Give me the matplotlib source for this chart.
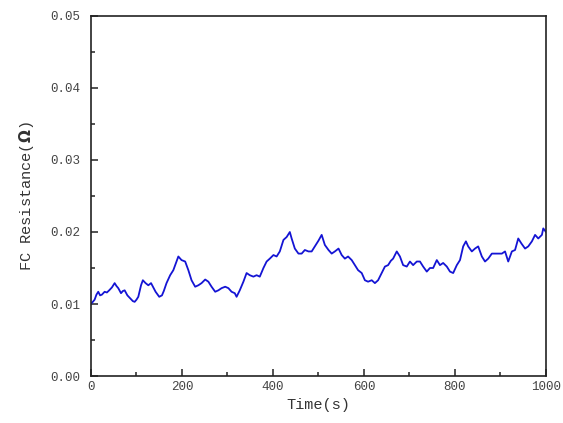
import matplotlib
matplotlib.use('Agg')
import matplotlib.pyplot as plt
from matplotlib.ticker import MultipleLocator, FormatStrFormatter

matplotlib.rcParams['font.family'] = ['Liberation Mono', 'DejaVu Sans Mono']
matplotlib.rcParams['font.size'] = 9

# time (s) and FC resistance (ohm)
time_s = [0, 4, 8, 12, 16, 20, 24, 30, 35, 40, 46, 52, 56, 60, 66, 70, 74, 80,
          86, 92, 96, 100, 104, 110, 114, 120, 126, 132, 137, 142, 150, 156,
          160, 166, 174, 181, 188, 192, 199, 207, 214, 221, 229, 236, 243,
          251, 258, 265, 273, 280, 287, 295, 302, 309, 316, 320, 327, 335,
          342, 349, 357, 364, 371, 379, 386, 393, 401, 408, 415, 423, 430,
          437, 441, 448, 456, 463, 470, 478, 485, 492, 500, 507, 514, 522,
          529, 536, 544, 551, 558, 565, 573, 580, 587, 595, 602, 609, 617,
          624, 631, 639, 646, 653, 659, 664, 672, 679, 686, 694, 701, 708,
          716, 723, 730, 738, 745, 752, 760, 767, 774, 782, 789, 796, 804,
          811, 818, 824, 829, 837, 844, 851, 859, 866, 873, 881, 888, 895,
          903, 910, 917, 925, 932, 939, 946, 954, 961, 969, 976, 983, 991,
          994, 1000]
resistance = [0.0100, 0.0103, 0.0106, 0.0113, 0.0117, 0.0112, 0.0113, 0.0117,
              0.0116, 0.0119, 0.0123, 0.0129, 0.0125, 0.0122, 0.0115, 0.0118,
              0.0119, 0.0112, 0.0108, 0.0104, 0.0103, 0.0106, 0.0110, 0.0126,
              0.0133, 0.0129, 0.0126, 0.0129, 0.0123, 0.0117, 0.0110, 0.0112,
              0.0118, 0.0129, 0.0140, 0.0147, 0.0159, 0.0166, 0.0161, 0.0159,
              0.0147, 0.0133, 0.0124, 0.0126, 0.0129, 0.0134, 0.0131, 0.0124,
              0.0117, 0.0119, 0.0122, 0.0124, 0.0122, 0.0117, 0.0115, 0.0110,
              0.0119, 0.0131, 0.0143, 0.0140, 0.0138, 0.0140, 0.0138, 0.0150,
              0.0159, 0.0163, 0.0168, 0.0166, 0.0173, 0.0189, 0.0193, 0.0200,
              0.0191, 0.0177, 0.0170, 0.0170, 0.0175, 0.0173, 0.0173, 0.0180,
              0.0188, 0.0196, 0.0182, 0.0175, 0.0170, 0.0173, 0.0177, 0.0168,
              0.0163, 0.0166, 0.0161, 0.0154, 0.0147, 0.0143, 0.0133, 0.0131,
              0.0133, 0.0129, 0.0133, 0.0143, 0.0152, 0.0154, 0.0160, 0.0163,
              0.0173, 0.0166, 0.0154, 0.0152, 0.0159, 0.0154, 0.0159, 0.0159,
              0.0152, 0.0145, 0.0150, 0.0150, 0.0161, 0.0154, 0.0157, 0.0152,
              0.0145, 0.0143, 0.0154, 0.0161, 0.0180, 0.0187, 0.0180, 0.0173,
              0.0177, 0.0180, 0.0166, 0.0159, 0.0163, 0.0170, 0.0170, 0.0170,
              0.0170, 0.0173, 0.0159, 0.0173, 0.0175, 0.0191, 0.0184, 0.0177,
              0.0180, 0.0187, 0.0196, 0.0191, 0.0196, 0.0205, 0.0200]

fig = plt.figure(figsize=(5.63, 4.23), dpi=100)
ax = fig.add_axes([0.1616, 0.1111, 0.8082, 0.8511])

ax.plot(time_s, resistance, color='#1414d4', linewidth=1.3)

ax.set_xlim(0, 1000)
ax.set_ylim(0, 0.05)
ax.xaxis.set_major_locator(MultipleLocator(200))
ax.xaxis.set_minor_locator(MultipleLocator(100))
ax.yaxis.set_major_locator(MultipleLocator(0.01))
ax.yaxis.set_minor_locator(MultipleLocator(0.005))
ax.yaxis.set_major_formatter(FormatStrFormatter('%.2f'))

ax.tick_params(which='both', direction='in', colors='#222222',
               labelcolor='#444444', width=1.1)
ax.tick_params(which='major', length=5, labelsize=9)
ax.tick_params(axis='y', which='major', pad=8)
ax.tick_params(which='minor', length=3)
for s in ax.spines.values():
    s.set_linewidth(1.2)
    s.set_color('#222222')

ax.set_xlabel('Time(s)', fontsize=11, color='#333333', labelpad=4)
ax.set_ylabel('FC Resistance($\\mathbf{\\Omega}$)', fontsize=11,
              color='#333333', labelpad=10)

fig.savefig('out.png', dpi=100)
